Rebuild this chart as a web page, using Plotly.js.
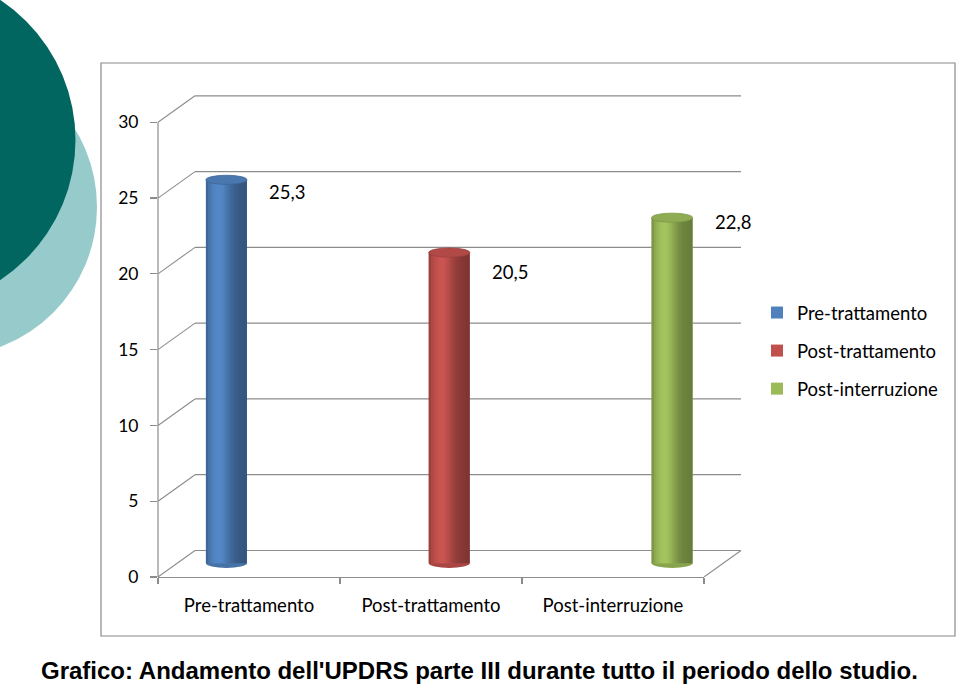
<!DOCTYPE html>
<html><head><meta charset="utf-8">
<script src="https://cdn.plot.ly/plotly-3.0.1.min.js"></script>
<style>html,body{margin:0;padding:0;background:#fff}#chart{width:960px;height:686px}</style>
</head><body><div id="chart"></div>
<script>
// ---------------- data ----------------
const categories = ["Pre-trattamento", "Post-trattamento", "Post-interruzione"];
const seriesNames = ["Pre-trattamento", "Post-trattamento", "Post-interruzione"];
const seriesValues = [25.3, 20.5, 22.8];
const valueLabels = ["25,3", "20,5", "22,8"];
const yTicks = [0, 5, 10, 15, 20, 25, 30];
const yTickLabels = ["0", "5", "10", "15", "20", "25", "30"];
const captionText = "Grafico: Andamento dell'UPDRS parte III durante tutto il periodo dello studio.";

// ---------------- styles / geometry ----------------
const seriesColors = [[79,129,189],[192,80,77],[155,187,89]];
const labelShiftY = [-12, -19, -4];
const W = 960, H = 686;
const FRONT_X = 158, FRONT_RIGHT = 704, BACK_X = 195, BACK_RIGHT = 741;
const ZERO_Y = 577, PX_PER_UNIT = 454.7 / 30;
const Y_MAX = 32;
const WALL_DY = 26.5 / PX_PER_UNIT;
const BAR_DY = 13.7 / PX_PER_UNIT;
const BAR_X0 = 115, BAR_X1 = 783.5, BAR_W = 0.184;
const ELL_H = 4.6 / PX_PER_UNIT;
const GRID = "#8c8c8c";
const FONT = "Lato, 'Open Sans', sans-serif";
const TXT = 18.5;
const fx = px => px / W, fy = py => 1 - py / H;
const yDomain = [fy(ZERO_Y), fy(ZERO_Y - Y_MAX * PX_PER_UNIT)];

const rgb = (c, f) => "rgb(" + c.map(v => Math.max(0, Math.min(255, Math.round(v * f)))).join(",") + ")";
const shade = t => 0.80 + 0.30 * Math.exp(-Math.pow((t - 0.33) / 0.27, 2)) - 0.14 * t - 0.10 * Math.exp(-Math.pow(t / 0.06, 2));

// ---------------- traces ----------------
const traces = [];
const N = 18;
seriesNames.forEach((name, i) => {
  traces.push({
    type: "bar", x: [categories[i]], y: [seriesValues[i]], name: name,
    legendgroup: name, showlegend: true, xaxis: "x2", yaxis: "y2",
    width: BAR_W, offset: -BAR_W / 2,
    marker: { color: rgb(seriesColors[i], 1), line: { width: 0 } }, hoverinfo: "skip"
  });
  for (let k = 0; k < N; k++) {
    const t = (k + 0.5) / N;
    traces.push({
      type: "bar", x: [categories[i]], y: [seriesValues[i]], name: name,
      legendgroup: name, showlegend: false, xaxis: "x2", yaxis: "y2",
      width: k < N - 1 ? BAR_W / N * 1.4 : BAR_W / N,
      offset: -BAR_W / 2 + k * BAR_W / N,
      marker: { color: rgb(seriesColors[i], shade(t)), line: { width: 0 } }, hoverinfo: "skip"
    });
  }
});
// invisible carrier so the front category axis knows its categories
traces.push({ type: "scatter", mode: "markers", x: categories, y: categories.map(() => 0),
  xaxis: "x", yaxis: "y", showlegend: false, hoverinfo: "skip", marker: { opacity: 0, size: 1 } });

// ---------------- shapes ----------------
const shapes = [];
shapes.push({ type: "circle", xref: "paper", yref: "paper", layer: "below",
  x0: fx(-202), x1: fx(97), y0: fy(356.5), y1: fy(57.5), fillcolor: "#97cbcb", line: { width: 0 } });
shapes.push({ type: "circle", xref: "paper", yref: "paper", layer: "below",
  x0: fx(-261), x1: fx(75.5), y0: fy(308), y1: fy(-28), fillcolor: "#01665f", line: { width: 0 } });
shapes.push({ type: "rect", xref: "paper", yref: "paper", layer: "below",
  x0: fx(101), x1: fx(955), y0: fy(636), y1: fy(63), line: { color: "#8a8a8a", width: 1.2 } });
yTicks.forEach(v => {
  shapes.push({ type: "line", xref: "paper", yref: "y", layer: "below",
    x0: fx(BACK_X), x1: fx(BACK_RIGHT), y0: v + WALL_DY, y1: v + WALL_DY, line: { color: GRID, width: 1.2 } });
  shapes.push({ type: "line", xref: "paper", yref: "y", layer: "below",
    x0: fx(FRONT_X), x1: fx(BACK_X), y0: v, y1: v + WALL_DY, line: { color: GRID, width: 1.1 } });
});
shapes.push({ type: "line", xref: "paper", yref: "y", layer: "below",
  x0: fx(FRONT_X), x1: fx(FRONT_X), y0: yTicks[0], y1: yTicks[yTicks.length - 1], line: { color: GRID, width: 1.2 } });
shapes.push({ type: "line", xref: "paper", yref: "y", layer: "below",
  x0: fx(FRONT_RIGHT), x1: fx(BACK_RIGHT), y0: 0, y1: WALL_DY, line: { color: GRID, width: 1.1 } });
seriesValues.forEach((v, i) => {
  shapes.push({ type: "circle", xref: "x2", yref: "y2", layer: "below",
    x0: i - BAR_W / 2, x1: i + BAR_W / 2, y0: -ELL_H, y1: ELL_H,
    fillcolor: rgb(seriesColors[i], 0.88), line: { width: 0 } });
  shapes.push({ type: "circle", xref: "x2", yref: "y2", layer: "above",
    x0: i - BAR_W / 2, x1: i + BAR_W / 2, y0: v - ELL_H, y1: v + ELL_H,
    fillcolor: rgb(seriesColors[i], 0.92), line: { color: rgb(seriesColors[i], 0.8), width: 0.8 } });
});

// ---------------- annotations ----------------
const annotations = seriesValues.map((v, i) => ({
  xref: "x2", yref: "y2", x: categories[i], y: v, text: valueLabels[i],
  showarrow: false, xshift: 61, yshift: labelShiftY[i],
  font: { family: FONT, size: TXT, color: "#000" }
}));
annotations.push({
  xref: "paper", yref: "paper", x: fx(479), y: fy(670), xanchor: "center", yanchor: "middle",
  text: "<b>" + captionText + "</b>", showarrow: false,
  font: { family: "'Liberation Sans', Arial, sans-serif", size: 24, color: "#000" }
});

const layout = {
  width: W, height: H,
  margin: { l: 0, r: 0, t: 0, b: 0, pad: 0 },
  paper_bgcolor: "#ffffff", plot_bgcolor: "rgba(0,0,0,0)",
  barmode: "overlay",
  font: { family: FONT, size: TXT, color: "#000" },
  showlegend: true,
  legend: {
    x: fx(757), y: fy(294), xanchor: "left", yanchor: "top",
    font: { family: FONT, size: TXT, color: "#000" },
    tracegroupgap: 11, traceorder: "grouped", bgcolor: "rgba(0,0,0,0)"
  },
  xaxis: {
    domain: [fx(FRONT_X), fx(FRONT_RIGHT)], anchor: "y", type: "category",
    categoryorder: "array", categoryarray: categories, range: [-0.5, categories.length - 0.5],
    tickangle: 0, showline: true, linecolor: GRID, linewidth: 1.2,
    ticks: "outside", tickson: "boundaries", ticklen: 6, tickcolor: GRID, tickwidth: 1.2,
    showgrid: false, zeroline: false, ticklabelstandoff: 12,
    tickfont: { family: FONT, size: TXT, color: "#000" }, fixedrange: true
  },
  yaxis: {
    domain: yDomain, anchor: "x", range: [0, Y_MAX],
    tickmode: "array", tickvals: yTicks, ticktext: yTickLabels,
    ticks: "outside", ticklen: 7, tickcolor: GRID, tickwidth: 1.2,
    showline: false, showgrid: false, zeroline: false, ticklabelstandoff: 8,
    tickfont: { family: FONT, size: 17.5, color: "#000" }, fixedrange: true
  },
  xaxis2: {
    domain: [fx(BAR_X0), fx(BAR_X1)], anchor: "y2", type: "category",
    categoryorder: "array", categoryarray: categories, range: [-0.5, categories.length - 0.5],
    visible: false, fixedrange: true
  },
  yaxis2: {
    domain: yDomain, anchor: "x2", range: [-BAR_DY, Y_MAX - BAR_DY], visible: false, fixedrange: true
  },
  shapes: shapes,
  annotations: annotations
};

Plotly.newPlot("chart", traces, layout, { staticPlot: true, displayModeBar: false });
</script>
</body></html>
